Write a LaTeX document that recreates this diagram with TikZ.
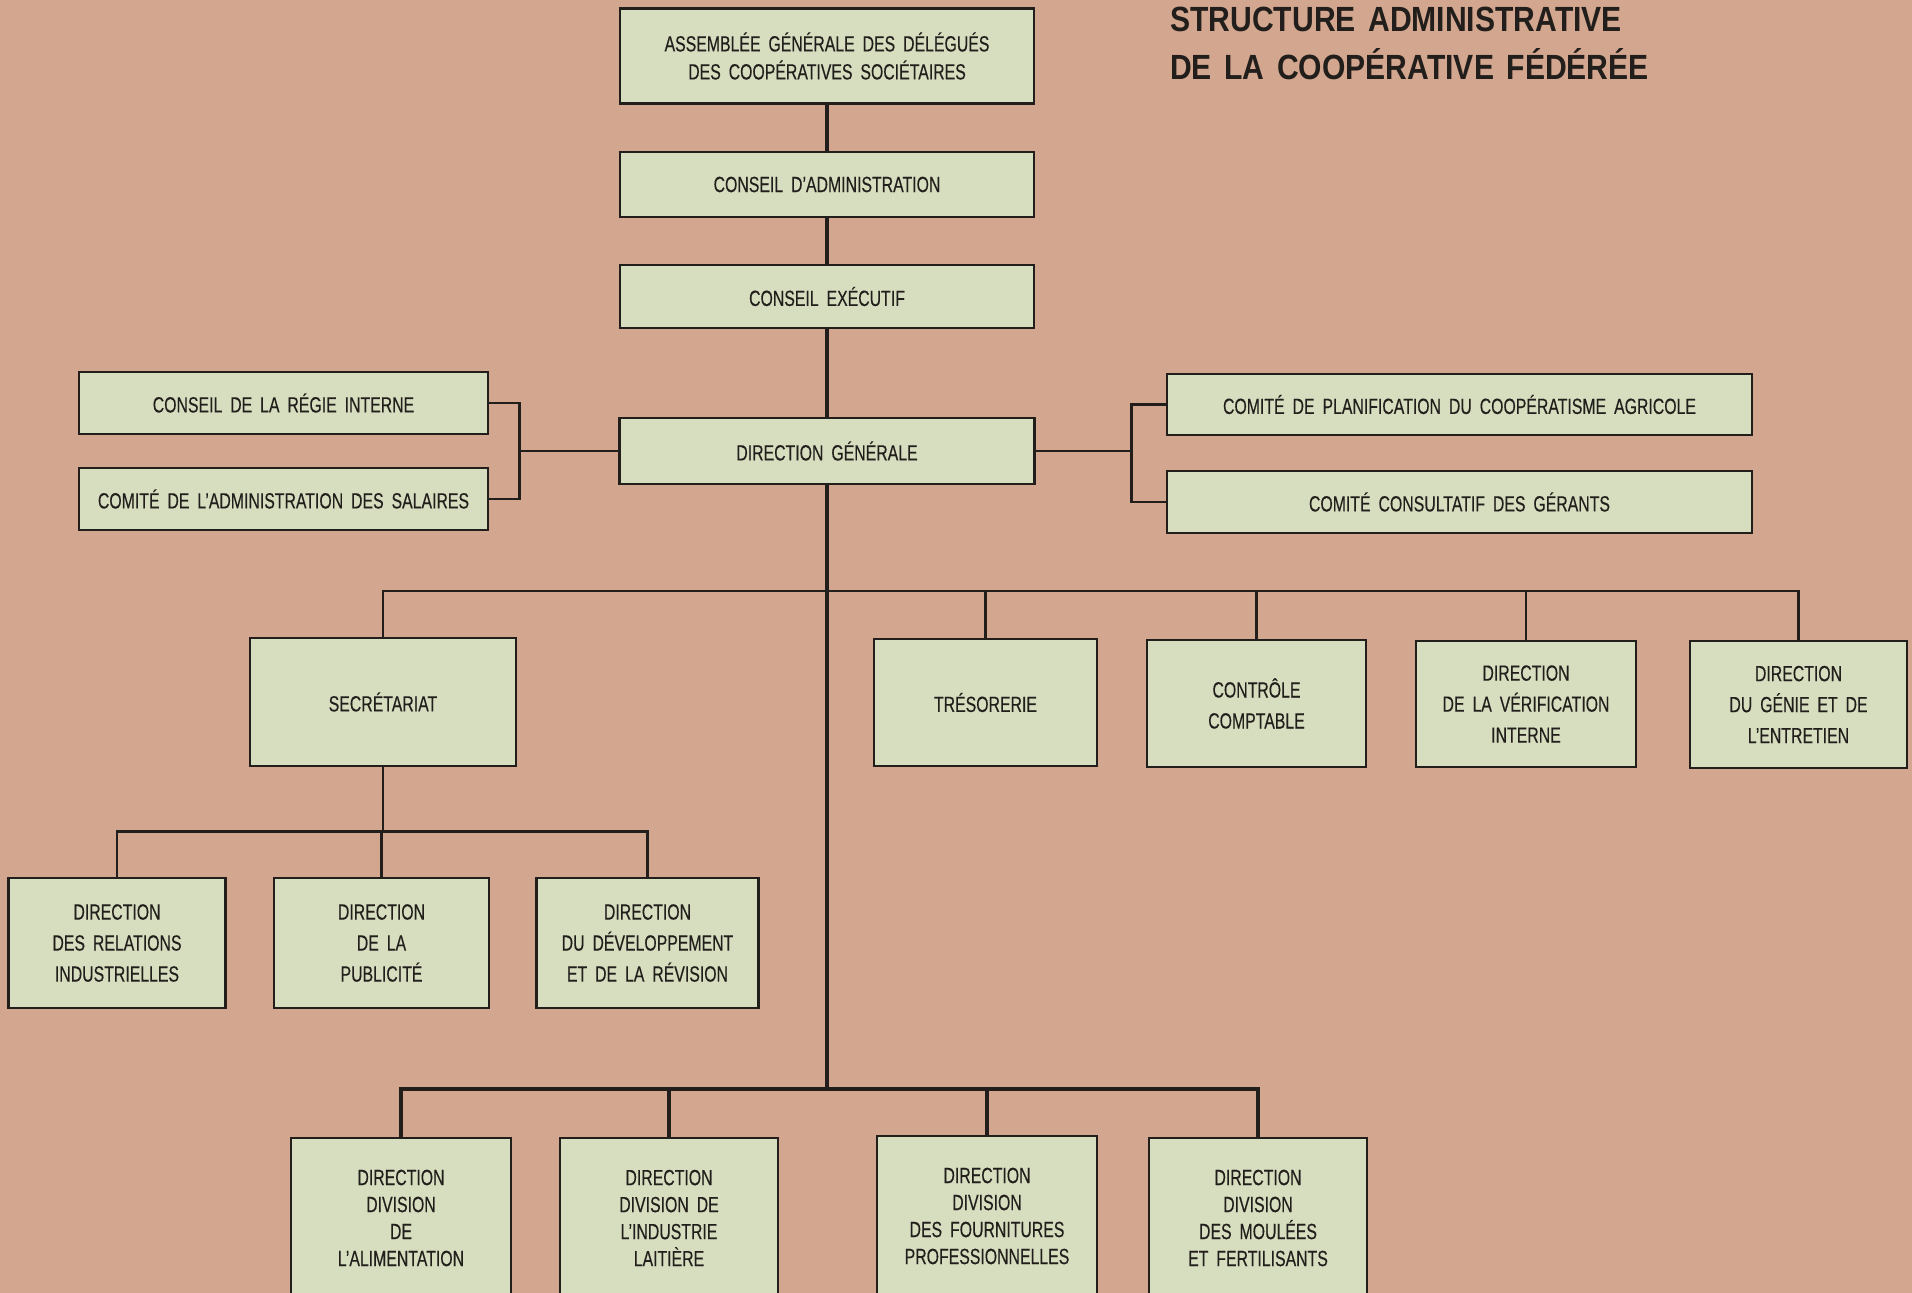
\documentclass[tikz,border=0pt]{standalone}
\usepackage{fontspec}
\usepackage{tikz}
\newfontfamily\condfont{Liberation Sans}[FakeStretch=0.72,WordSpace=1.8,FakeBold=0.3]
\newfontfamily\titlefont{Liberation Sans}[FakeStretch=0.86,WordSpace=1.5]
\definecolor{bgcol}{RGB}{211,166,143}
\definecolor{boxcol}{RGB}{214,222,191}
\definecolor{inkcol}{RGB}{34,30,27}
\newcommand{\boxfont}{\condfont\fontsize{22}{31}\selectfont}
\newcommand{\divfont}{\condfont\fontsize{22}{27}\selectfont}

\begin{document}
\begin{tikzpicture}[x=1pt, y=-1pt,
    box/.style={draw=inkcol, line width=2.5pt, fill=boxcol, text=inkcol,
                font=\boxfont, align=center, inner sep=0pt},
    trunk/.style={draw=inkcol, line width=4pt},
    link/.style={draw=inkcol, line width=2.6pt},
    title/.style={text=inkcol, font=\titlefont\bfseries\fontsize{35}{47.6}\selectfont,
                  align=left, inner sep=0pt}]
    \useasboundingbox (0,0) rectangle (1912,1293);
    \fill[bgcol] (0,0) rectangle (1912,1293);
    \clip (0,0) rectangle (1912,1293);

    % Titre.
    \node[title, anchor=base west] (titre) at (1170,79.3)
        {STRUCTURE ADMINISTRATIVE\\DE LA COOPÉRATIVE FÉDÉRÉE};

    % Cases.
    \node[box, minimum width=414pt, minimum height=95pt,
          font=\condfont\fontsize{22}{28}\selectfont] (assem) at (827,56)
        {ASSEMBLÉE GÉNÉRALE DES DÉLÉGUÉS\\DES COOPÉRATIVES SOCIÉTAIRES};
    \node[box, minimum width=414pt, minimum height=65pt] (admin) at (827,184.5)
        {CONSEIL D’ADMINISTRATION};
    \node[box, minimum width=414pt, minimum height=63pt] (exec) at (827,296.5)
        {CONSEIL EXÉCUTIF};
    \node[box, minimum width=415pt, minimum height=66pt] (dg) at (827,451)
        {DIRECTION GÉNÉRALE};

    \node[box, minimum width=409pt, minimum height=62pt] (regie) at (283.5,403)
        {CONSEIL DE LA RÉGIE INTERNE};
    \node[box, minimum width=409pt, minimum height=62pt] (sal) at (283.5,499)
        {COMITÉ DE L’ADMINISTRATION DES SALAIRES};
    \node[box, minimum width=585pt, minimum height=61pt] (plan) at (1459.5,404.5)
        {COMITÉ DE PLANIFICATION DU COOPÉRATISME AGRICOLE};
    \node[box, minimum width=585pt, minimum height=62pt] (cons) at (1459.5,502)
        {COMITÉ CONSULTATIF DES GÉRANTS};

    \node[box, minimum width=266pt, minimum height=128pt] (secr) at (383,702)
        {SECRÉTARIAT};
    \node[box, minimum width=223pt, minimum height=127pt] (tres) at (985.5,702.5)
        {TRÉSORERIE};
    \node[box, minimum width=219pt, minimum height=127pt] (ctrl) at (1256.5,703.5)
        {CONTRÔLE\\COMPTABLE};
    \node[box, minimum width=220pt, minimum height=126pt] (verif) at (1526,704)
        {DIRECTION\\DE LA VÉRIFICATION\\INTERNE};
    \node[box, minimum width=217pt, minimum height=127pt] (genie) at (1798.5,704.5)
        {DIRECTION\\DU GÉNIE ET DE\\L’ENTRETIEN};

    \node[box, minimum width=217pt, minimum height=130pt] (rel) at (117,943)
        {DIRECTION\\DES RELATIONS\\INDUSTRIELLES};
    \node[box, minimum width=215pt, minimum height=130pt] (pub) at (381.5,943)
        {DIRECTION\\DE LA\\PUBLICITÉ};
    \node[box, minimum width=222pt, minimum height=130pt] (dev) at (647.5,943)
        {DIRECTION\\DU DÉVELOPPEMENT\\ET DE LA RÉVISION};

    \node[box, font=\divfont, minimum width=220pt, minimum height=160pt] (alim) at (401,1218)
        {DIRECTION\\DIVISION\\DE\\L’ALIMENTATION};
    \node[box, font=\divfont, minimum width=218pt, minimum height=160pt] (lait) at (669,1218)
        {DIRECTION\\DIVISION DE\\L’INDUSTRIE\\LAITIÈRE};
    \node[box, font=\divfont, minimum width=220pt, minimum height=160pt] (fourn) at (987,1216)
        {DIRECTION\\DIVISION\\DES FOURNITURES\\PROFESSIONNELLES};
    \node[box, font=\divfont, minimum width=218pt, minimum height=160pt] (moul) at (1258,1218)
        {DIRECTION\\DIVISION\\DES MOULÉES\\ET FERTILISANTS};

    % Lignes.
    \coordinate (lb) at (519.5,451);
    \coordinate (rb) at (1131.5,451);
    \coordinate (b1) at (827,591);
    \coordinate (sb) at (383,831.5);
    \coordinate (b2) at (827,1089);

    \foreach \a/\b in {assem/admin, admin/exec, exec/dg}
    {
        \draw[trunk] (\a) -- (\b);
    }
    \draw[trunk] (dg.south) -- (b2);

    \draw[link] (regie.east) -| (lb) |- (sal.east);
    \draw[link] (lb) -- (dg.west);
    \draw[link] (plan.west) -| (rb) |- (cons.west);
    \draw[link] (rb) -- (dg.east);

    \draw[link] (secr.north) |- (genie.north |- b1) -- (genie.north);
    \foreach \n in {tres,ctrl,verif}
    {
        \draw[link] (\n.north) -- (\n.north |- b1);
    }

    \draw[link] (secr.south) -- (sb);
    \draw[link] (rel.north) |- (dev.north |- sb) -- (dev.north);
    \draw[link] (pub.north) -- (pub.north |- sb);

    \draw[trunk] (alim.north) |- (moul.north |- b2) -- (moul.north);
    \foreach \n in {lait,fourn}
    {
        \draw[trunk] (\n.north) -- (\n.north |- b2);
    }
\end{tikzpicture}
\end{document}
